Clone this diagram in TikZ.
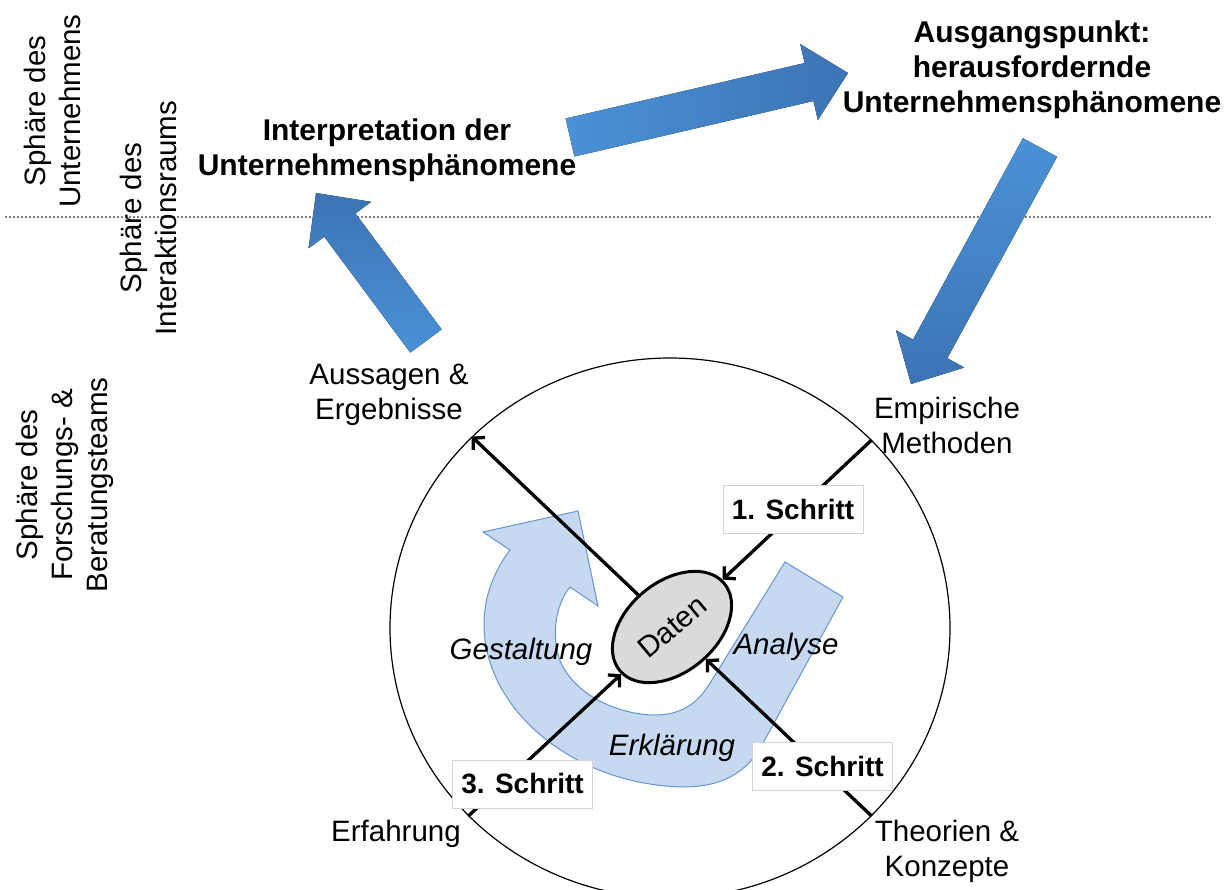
\documentclass[tikz,border=0pt]{standalone}
\usepackage{fontspec}
\setmainfont{Liberation Sans}
\usetikzlibrary{arrows.meta,calc,shapes.geometric}
\definecolor{blueL}{RGB}{74,145,215}
\definecolor{blueD}{RGB}{60,116,180}
\definecolor{ufill}{RGB}{198,217,241}
\definecolor{uline}{RGB}{100,150,210}
\definecolor{datfill}{RGB}{218,218,218}
\definecolor{boxgray}{RGB}{212,212,212}
\newcommand{\blockarr}[4]{%
  \coordinate (#4h) at ($(#2)!40pt!(#1)$);
  \fill[#3] ($(#1)!19.5pt!90:(#2)$) -- ($(#4h)!19.5pt!90:(#2)$) -- ($(#4h)!39pt!90:(#2)$) -- (#2)
     -- ($(#4h)!39pt!-90:(#2)$) -- ($(#4h)!19.5pt!-90:(#2)$) -- ($(#1)!19.5pt!-90:(#2)$) -- cycle;
}
\tikzset{
  lbl/.style={font=\fontsize{29.5}{35}\selectfont, align=center, inner sep=0pt},
  ttl/.style={font=\fontsize{30}{35}\selectfont\bfseries, align=center, inner sep=0pt},
  ital/.style={font=\fontsize{29.5}{35}\selectfont\itshape, inner sep=0pt},
  stepbox/.style={draw=boxgray, fill=white, line width=1pt, minimum width=140pt, minimum height=48pt,
     font=\fontsize{28}{34}\selectfont\bfseries, inner sep=0pt},
  conn/.style={line width=3.3pt, -{Straight Barb[length=8pt,width=17pt]}},
  arrH/.style={left color=blueL, right color=blueD},
  arrDown/.style={top color=blueL, bottom color=blueD},
  arrUp/.style={top color=blueD, bottom color=blueL},
}
\begin{document}
\begin{tikzpicture}[x=1pt,y=-1pt]
\useasboundingbox (0,0) rectangle (1229,889);
% sphere divider
\draw[gray, line width=1.5pt, dash pattern=on 1.5pt off 2.5pt] (5,217) -- (1212,217);
% sphere labels
\node[lbl, rotate=90] (s1) at (52,111) {Sphäre des\\Unternehmens};
\node[lbl, rotate=90] (s2) at (148,218) {Sphäre des\\Interaktionsraums};
\node[lbl, rotate=90] (s3) at (65,485) {Sphäre des\\Forschungs- \&\\Beratungsteams};
% titles
\node[ttl] (interp) at (387,150) {Interpretation der\\Unternehmensphänomene};
\node[ttl] (ausg) at (1032,70) {Ausgangspunkt:\\herausfordernde\\Unternehmensphänomene};
% big blue arrows
\coordinate (a1t) at (570,137.5); \coordinate (a1h) at (848,73);
\coordinate (a2t) at (1040,147.5); \coordinate (a2h) at (911,384);
\coordinate (a3t) at (426,341); \coordinate (a3h) at (316,193);
\blockarr{a1t}{a1h}{arrH}{p}
\blockarr{a2t}{a2h}{arrDown}{q}
\blockarr{a3t}{a3h}{arrUp}{r}
% big circle
\node[draw, ellipse, minimum width=560pt, minimum height=540pt, line width=1.2pt, inner sep=0pt] (circ) at (670,628) {};
% U arrow
\fill[ufill, draw=uline, line width=1pt]
  (843,597) -- (762,745)
  .. controls (740,785) and (700,792) .. (650,784)
  .. controls (570,772) and (495,715) .. (485,640)
  .. controls (480,600) and (495,570) .. (510,550)
  -- (483,532) -- (578,511) -- (598,606) -- (570,587)
  .. controls (555,605) and (550,640) .. (562,665)
  .. controls (580,700) and (625,715) .. (655,715)
  .. controls (685,715) and (700,700) .. (712,680)
  -- (785,562) -- cycle;
\node[ital] (gest) at (521,652) {Gestaltung};
\node[ital] (anal) at (786,647) {Analyse};
\node[ital] (erkl) at (672,748) {Erklärung};
% Daten
\node[draw, ellipse, fill=datfill, line width=3pt, minimum width=136pt, minimum height=90pt, inner sep=0pt,
      rotate=40, font=\fontsize{29.5}{35}\selectfont] (daten) at (672,627) {Daten};
% connectors
\draw[conn] (daten) -- (circ.136);
\draw[conn] (circ.43) -- (daten);
\draw[conn] (circ.-43) -- (daten);
\draw[conn] (circ.223) -- (daten);
% step boxes
\node[stepbox] (st1) at (793,509) {1. Schritt};
\node[stepbox] (st2) at (822.5,766) {2. Schritt};
\node[stepbox] (st3) at (522.5,784) {3. Schritt};
% outer labels
\node[lbl] (auss) at (389,395) {Aussagen \&\\Ergebnisse};
\node[lbl] (emp) at (947,425) {Empirische\\Methoden};
\node[lbl] (erf) at (396,834) {Erfahrung};
\node[lbl] (theo) at (947,851) {Theorien \&\\Konzepte};
\end{tikzpicture}
\end{document}
